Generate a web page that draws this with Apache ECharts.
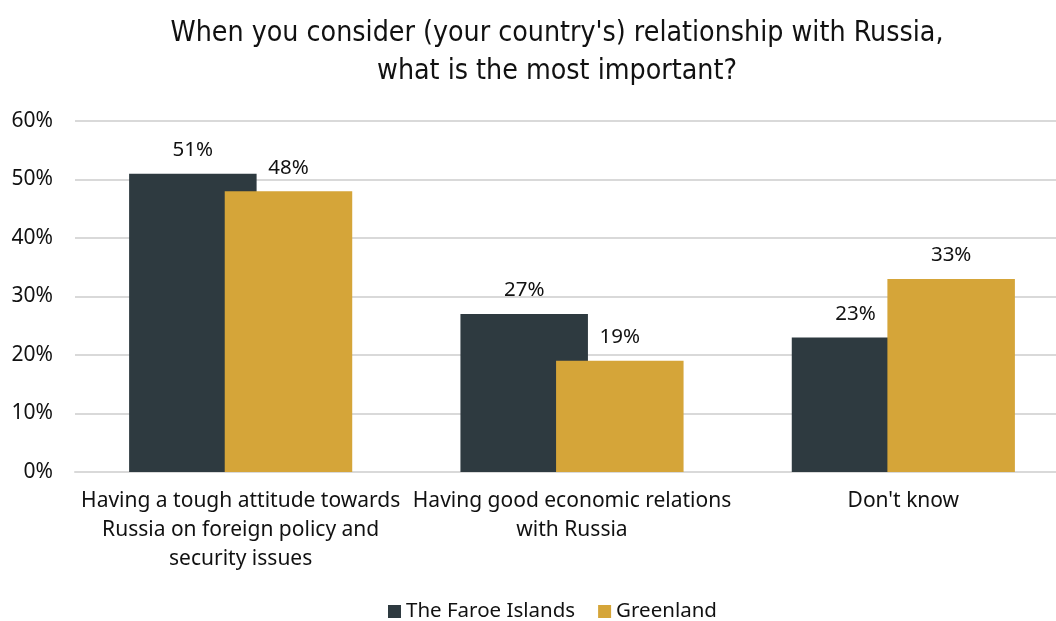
<!DOCTYPE html>
<html>
<head>
<meta charset="utf-8">
<script src="https://cdn.jsdelivr.net/npm/echarts@6/dist/echarts.min.js"></script>
<style>
  html, body { margin: 0; padding: 0; background: #ffffff; }
  #chart { width: 1056px; height: 621px; }
</style>
</head>
<body>
<div id="chart"></div>
<script>
// Survey answers, share of respondents (%)
const categories = [
  'Having a tough attitude towards\nRussia on foreign policy and\nsecurity issues',
  'Having good economic relations\nwith Russia',
  "Don't know"
];
const faroeValues = [51, 27, 23];
const greenlandValues = [48, 19, 33];
const yTicks = { min: 0, max: 60, interval: 10 };

const FONT = '"Noto Sans", "Open Sans", sans-serif';
const TEXT = '#111111';

const chart = echarts.init(document.getElementById('chart'));

const labelStyle = {
  show: true,
  position: 'top',
  distance: 13,
  formatter: p => p.value + '%',
  color: TEXT,
  fontFamily: FONT,
  fontSize: 20.5
};

chart.setOption({
  animation: false,
  title: {
    text: "When you consider (your country's) relationship with Russia,\nwhat is the most important?",
    left: 552,
    textAlign: 'center',
    top: 10,
    textStyle: {
      fontFamily: '"Liberation Sans Narrow", "DejaVu Sans Condensed", sans-serif',
      fontWeight: 'normal',
      fontSize: 28.3,
      lineHeight: 38,
      color: TEXT
    }
  },
  legend: {
    top: 596,
    left: 383,
    itemWidth: 13,
    itemHeight: 13,
    itemGap: 23,
    icon: 'rect',
    textStyle: { fontFamily: FONT, fontSize: 20.5, color: TEXT },
    data: ['The Faroe Islands', 'Greenland']
  },
  // plot box runs a little past the right edge of the canvas
  grid: {
    left: 75, top: 121, width: 994, height: 351,
    containLabel: false,
    outerBoundsMode: 'none'
  },
  xAxis: {
    type: 'category',
    data: categories,
    axisTick: { show: false },
    axisLine: { show: true, lineStyle: { color: '#d9d9d9', width: 2 } },
    axisLabel: {
      interval: 0,
      margin: 15,
      fontFamily: FONT,
      fontSize: 21,
      lineHeight: 29,
      color: TEXT
    }
  },
  yAxis: {
    type: 'value',
    min: yTicks.min,
    max: yTicks.max,
    interval: yTicks.interval,
    axisLine: { show: false },
    axisTick: { show: false },
    splitLine: { lineStyle: { color: '#d9d9d9', width: 2 } },
    axisLabel: {
      formatter: '{value}%',
      margin: 22,
      fontFamily: FONT,
      fontSize: 21,
      color: TEXT
    }
  },
  series: [
    {
      name: 'The Faroe Islands',
      type: 'bar',
      data: faroeValues,
      barWidth: 127.5,
      barGap: '-25%',
      itemStyle: { color: '#2e3a40' },
      label: labelStyle
    },
    {
      name: 'Greenland',
      type: 'bar',
      data: greenlandValues,
      barWidth: 127.5,
      barGap: '-25%',
      itemStyle: { color: '#d5a539' },
      label: labelStyle
    }
  ]
});
</script>
</body>
</html>
